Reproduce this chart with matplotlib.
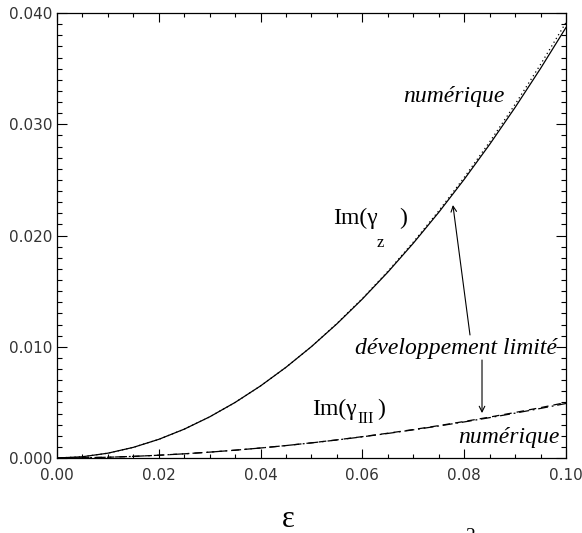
import matplotlib
matplotlib.use("Agg")
import matplotlib.pyplot as plt
from matplotlib.ticker import MultipleLocator, FormatStrFormatter

# epsilon grid
eps = [0.000, 0.005, 0.010, 0.015, 0.020, 0.025, 0.030, 0.035, 0.040, 0.045, 0.050,
       0.055, 0.060, 0.065, 0.070, 0.075, 0.080, 0.085, 0.090, 0.095, 0.100]

# Im(gamma_z): numerical (solid) and limited expansion (dotted)
gz_num = [0.0, 0.000112, 0.000434, 0.000957, 0.001678, 0.002593, 0.003700, 0.004996,
          0.006482, 0.008158, 0.010016, 0.012063, 0.014292, 0.016707, 0.019304,
          0.022082, 0.025047, 0.028189, 0.031510, 0.035016, 0.038700]
gz_dl = [0.0, 0.000112, 0.000434, 0.000957, 0.001678, 0.002593, 0.003700, 0.004996,
         0.006482, 0.008158, 0.010016, 0.012093, 0.014342, 0.016777, 0.019404,
         0.022212, 0.025217, 0.028409, 0.031790, 0.035376, 0.039150]

# Im(gamma_III): numerical (dash-dot) and limited expansion (dashed)
g3_num = [0.0, 0.0000192, 0.0000692, 0.0001465, 0.0002496, 0.000377, 0.000528,
          0.000703, 0.000900, 0.001119, 0.001359, 0.001621, 0.001905, 0.002208,
          0.002533, 0.002878, 0.003243, 0.003628, 0.004032, 0.004457, 0.004900]
g3_dl = [0.0, 0.0000192, 0.0000692, 0.0001465, 0.0002496, 0.000377, 0.000528,
         0.000703, 0.000900, 0.001119, 0.001365, 0.001631, 0.001920, 0.002228,
         0.002558, 0.002910, 0.003283, 0.003678, 0.004092, 0.004527, 0.004990]

SANS = ["DejaVu Sans"]
SERIF = ["Liberation Serif", "DejaVu Serif"]

fig = plt.figure(figsize=(5.82, 5.33), dpi=100)
ax = fig.add_axes([0.0979, 0.1407, 0.8746, 0.8349])

ax.plot(eps, gz_num, color="black", lw=0.9, ls="-")
ax.plot(eps, gz_dl, color="black", lw=0.9, ls=(0, (1, 2.5)))
ax.plot(eps, g3_num, color="black", lw=0.9, ls=(0, (8, 3, 1.5, 3)))
ax.plot(eps, g3_dl, color="black", lw=0.9, ls=(0, (6, 4)))

ax.set_xlim(0.0, 0.1)
ax.set_ylim(0.0, 0.04)
ax.xaxis.set_major_locator(MultipleLocator(0.02))
ax.xaxis.set_minor_locator(MultipleLocator(0.005))
ax.yaxis.set_major_locator(MultipleLocator(0.01))
ax.yaxis.set_minor_locator(MultipleLocator(0.001))
ax.xaxis.set_major_formatter(FormatStrFormatter("%.2f"))
ax.yaxis.set_major_formatter(FormatStrFormatter("%.3f"))
ax.tick_params(which="both", direction="in", top=True, right=True, width=0.8)
ax.tick_params(axis="x", which="major", length=6.5, pad=7)
ax.tick_params(axis="x", which="minor", length=3)
ax.tick_params(axis="y", which="major", length=7, pad=3)
ax.tick_params(axis="y", which="minor", length=3.6)
for lab in ax.get_xticklabels() + ax.get_yticklabels():
    lab.set_fontfamily(SANS)
    lab.set_fontsize(11)
    lab.set_color("#333333")
for sp in ax.spines.values():
    sp.set_linewidth(0.9)

ital = dict(family=SERIF, style="italic", fontsize=17, va="baseline", ha="left")
ax.text(0.06798, 0.03200, "numérique", **ital)
ax.text(0.07878, 0.00135, "numérique", **ital)
ax.text(0.05855, 0.00935, "développement limité", **ital)

upr = dict(family=SERIF, fontsize=17, va="baseline", ha="left")
sub = dict(family=SERIF, fontsize=12, va="baseline", ha="left")
ax.text(0.05422, 0.02103, "Im(γ", **upr)
ax.text(0.06287, 0.01897, "z", **sub)
ax.text(0.06719, 0.02103, ")", **upr)
ax.text(0.05010, 0.003865, "Im(γ", **upr)
ax.text(0.05894, 0.003146, "III", **sub)
ax.text(0.06287, 0.003865, ")", **upr)

arrow = dict(arrowstyle="->", color="black", lw=0.8, mutation_scale=10,
             shrinkA=0, shrinkB=0)
ax.annotate("", xy=(0.07778, 0.02274), xytext=(0.08114, 0.01106), arrowprops=arrow)
ax.annotate("", xy=(0.0835, 0.00404), xytext=(0.0835, 0.00881), arrowprops=arrow)

fig.text(0.4948, 0.0244, "ε", family=SERIF, fontsize=22, ha="center", va="center")
# partially visible superscript at the bottom edge, as in the original
fig.text(0.8076, -0.015, "2", family=SERIF, fontsize=14, ha="center", va="baseline")

fig.savefig("out.png", dpi=100)
